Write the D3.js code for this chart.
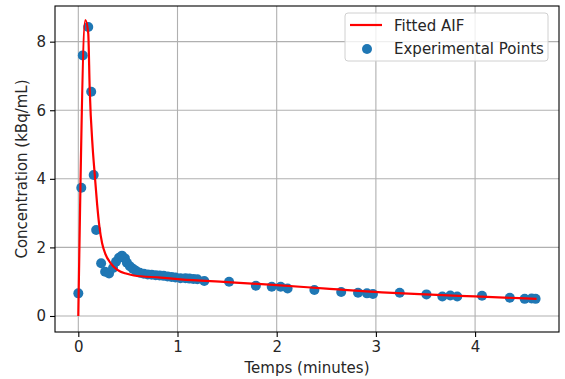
<!DOCTYPE html>
<html>
<head>
<meta charset="utf-8">
<script src="https://cdn.jsdelivr.net/npm/d3@7"></script>
<style>
  body { margin: 0; background: #fff; }
  svg text { font-family: "DejaVu Sans", sans-serif; fill: #262626; }
  .grid line { stroke: #b0b0b0; stroke-width: 1.1; }
  .axis path, .axis line { stroke: #000; stroke-width: 1.1; }
</style>
</head>
<body>
<svg id="chart" width="565" height="379"></svg>
<script>
// experimental points (minutes, kBq/mL)
const expTime = [0.00, 0.03, 0.045, 0.10, 0.13, 0.155, 0.18, 0.23, 0.27, 0.31,
  0.35, 0.38, 0.41, 0.44, 0.47, 0.49, 0.52, 0.55, 0.58, 0.62,
  0.66, 0.70, 0.74, 0.78, 0.82, 0.86, 0.90, 0.94, 0.98, 1.03,
  1.08, 1.12, 1.16, 1.20, 1.27, 1.52, 1.79, 1.95, 2.04, 2.11,
  2.38, 2.65, 2.82, 2.91, 2.97, 3.24, 3.51, 3.67, 3.75, 3.82,
  4.07, 4.35, 4.50, 4.57, 4.61];
const expConc = [0.66, 3.74, 7.60, 8.43, 6.54, 4.11, 2.51, 1.54, 1.29, 1.24,
  1.40, 1.58, 1.70, 1.76, 1.68, 1.55, 1.45, 1.38, 1.32, 1.26,
  1.23, 1.21, 1.20, 1.19, 1.18, 1.17, 1.15, 1.14, 1.12, 1.10,
  1.10, 1.09, 1.08, 1.07, 1.02, 1.00, 0.88, 0.85, 0.85, 0.80,
  0.76, 0.70, 0.68, 0.66, 0.64, 0.68, 0.63, 0.57, 0.60, 0.57,
  0.59, 0.53, 0.50, 0.51, 0.50];

// fitted AIF curve
const fitTime = [0, 0.071, 0.10, 0.115, 0.145, 0.165, 0.19, 0.213, 0.24, 0.274,
  0.324, 0.39, 0.49, 0.56, 0.83, 1.03, 1.5, 2.0, 2.5, 3.06, 3.5, 4.0, 4.62];
const fitConc = [0, 8.63, 8.25, 6.6, 4.9, 4.15, 3.25, 2.6, 2.12, 1.8,
  1.55, 1.35, 1.23, 1.18, 1.12, 1.07, 0.99, 0.90, 0.80, 0.69, 0.63, 0.57, 0.50];

const xTicks = [0, 1, 2, 3, 4];
const yTicks = [0, 2, 4, 6, 8];

const margin = { top: 6, right: 6, bottom: 47, left: 55 };
const width = 565 - margin.left - margin.right;
const height = 379 - margin.top - margin.bottom;
const fs = '15px';

const svg = d3.select('#chart')
  .append('g')
  .attr('transform', 'translate(' + margin.left + ',' + margin.top + ')');

const x = d3.scaleLinear().domain([-0.235, 4.846]).range([0, width]);
const y = d3.scaleLinear().domain([-0.467, 9.04]).range([height, 0]);

// grid
svg.append('g').attr('class', 'grid')
  .selectAll('line.gx').data(xTicks).enter().append('line')
  .attr('x1', d => x(d)).attr('x2', d => x(d))
  .attr('y1', 0).attr('y2', height);
svg.append('g').attr('class', 'grid')
  .selectAll('line.gy').data(yTicks).enter().append('line')
  .attr('x1', 0).attr('x2', width)
  .attr('y1', d => y(d)).attr('y2', d => y(d));

// points
svg.append('g').selectAll('circle').data(expTime).enter()
  .append('circle')
  .attr('cx', d => x(d))
  .attr('cy', (d, i) => y(expConc[i]))
  .attr('r', 5)
  .attr('fill', '#1f77b4');

// fitted line
const line = d3.line()
  .x(d => x(d[0]))
  .y(d => y(d[1]))
  .curve(d3.curveMonotoneX);
svg.append('path')
  .datum(fitTime.map((t, i) => [t, fitConc[i]]))
  .attr('d', line)
  .attr('fill', 'none')
  .attr('stroke', '#ff0000')
  .attr('stroke-width', 2.2);

// frame
svg.append('rect')
  .attr('width', width).attr('height', height)
  .attr('fill', 'none').attr('stroke', '#000').attr('stroke-width', 1.1);

// axes
const xAxis = d3.axisBottom(x).tickValues(xTicks).tickFormat(d3.format('d'))
  .tickSizeOuter(0).tickSize(5).tickPadding(4);
const yAxis = d3.axisLeft(y).tickValues(yTicks).tickFormat(d3.format('d'))
  .tickSizeOuter(0).tickSize(5).tickPadding(4);

svg.append('g').attr('class', 'axis')
  .attr('transform', 'translate(0,' + height + ')')
  .call(xAxis)
  .call(g => g.select('.domain').remove())
  .selectAll('text').style('font-size', fs).style('fill', '#262626');

svg.append('g').attr('class', 'axis')
  .call(yAxis)
  .call(g => g.select('.domain').remove())
  .selectAll('text').style('font-size', fs).style('fill', '#262626');

svg.append('text')
  .attr('x', width / 2).attr('y', height + 41)
  .attr('text-anchor', 'middle')
  .style('font-size', fs)
  .text('Temps (minutes)');

svg.append('text')
  .attr('transform', 'rotate(-90)')
  .attr('x', -height / 2).attr('y', -28)
  .attr('text-anchor', 'middle')
  .style('font-size', fs)
  .text('Concentration (kBq/mL)');

// legend
const lg = svg.append('g').attr('transform', 'translate(' + (345 - margin.left) + ',' + (13 - margin.top) + ')');
lg.append('rect')
  .attr('width', 203).attr('height', 48).attr('rx', 3)
  .attr('fill', 'rgba(255,255,255,0.8)').attr('stroke', '#d0d0d0');
lg.append('line')
  .attr('x1', 5).attr('x2', 37).attr('y1', 12).attr('y2', 12)
  .attr('stroke', '#ff0000').attr('stroke-width', 2.2);
lg.append('text').attr('x', 49).attr('y', 17.5).style('font-size', fs).text('Fitted AIF');
lg.append('circle').attr('cx', 22).attr('cy', 36).attr('r', 5).attr('fill', '#1f77b4');
lg.append('text').attr('x', 49).attr('y', 40.5).style('font-size', fs).text('Experimental Points');
</script>
</body>
</html>
